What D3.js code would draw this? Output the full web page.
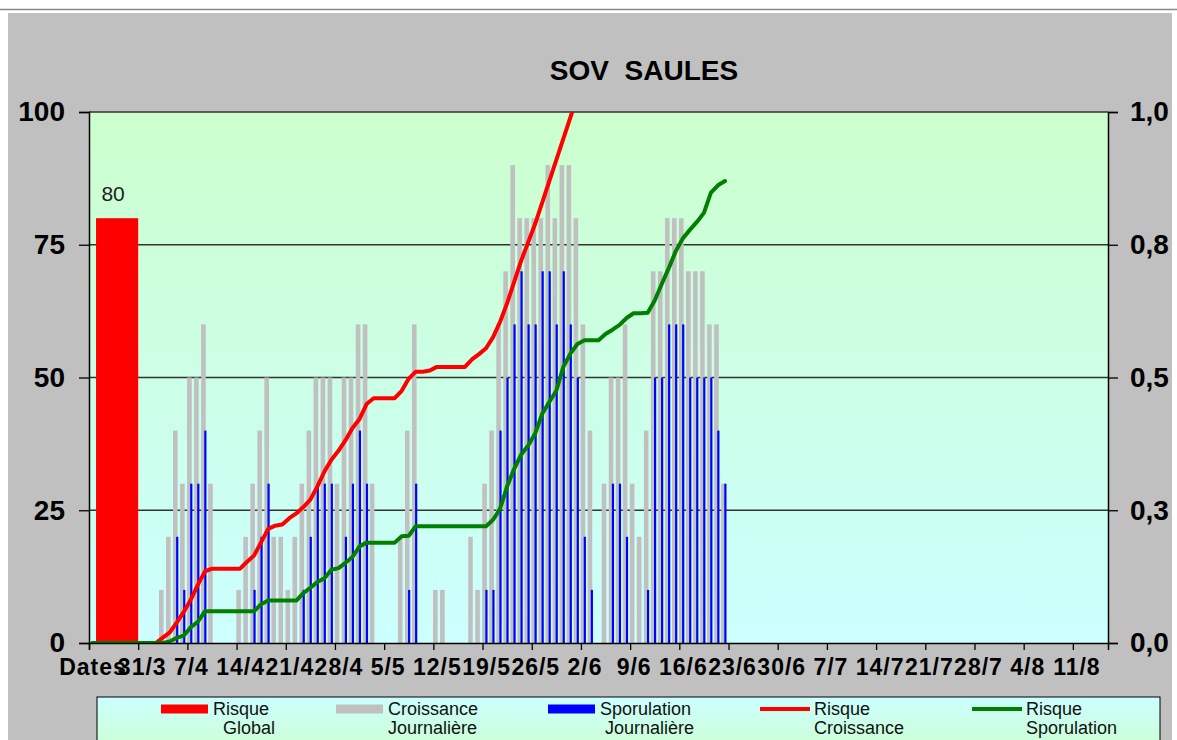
<!DOCTYPE html>
<html>
<head>
<meta charset="utf-8">
<script src="https://cdn.jsdelivr.net/npm/d3@7/dist/d3.min.js"></script>
<style>
  body { margin: 0; background: #fff; }
  svg { display: block; }
  text { font-family: "Liberation Sans", Arial, sans-serif; }
</style>
</head>
<body>
<svg id="chart" width="1177" height="740"></svg>
<script>
// Chart values (day 0 = 24/3, one value per day)
var title = "SOV  SAULES";
var tickLabels = ["Dates", "31/3", "7/4", "14/4", "21/4", "28/4", "5/5", "12/5", "19/5", "26/5",
  "2/6", "9/6", "16/6", "23/6", "30/6", "7/7", "14/7", "21/7", "28/7", "4/8", "11/8"];
var risqueGlobal = 80;
var croissance = [
  0, 0, 0, 0, 0, 0, 0, 0, 0, 0,
  10, 20, 40, 30, 50, 50, 60, 30, 0, 0,
  0, 10, 20, 30, 40, 50, 20, 20, 10, 20,
  30, 40, 50, 50, 50, 30, 50, 50, 60, 60,
  30, 0, 0, 0, 20, 40, 60, 0, 0, 10,
  10, 0, 0, 0, 20, 10, 30, 40, 60, 70,
  90, 80, 80, 80, 80, 90, 80, 90, 90, 80,
  60, 40, 0, 30, 50, 50, 60, 30, 20, 40,
  70, 70, 80, 80, 80, 70, 70, 70, 60, 60,
  30];
var sporulation = [
  0, 0, 0, 0, 0, 0, 0, 0, 0, 0,
  0, 0, 20, 10, 30, 30, 40, 0, 0, 0,
  0, 0, 0, 10, 20, 30, 0, 0, 0, 0,
  10, 20, 30, 30, 30, 0, 20, 30, 40, 30,
  0, 0, 0, 0, 0, 10, 30, 0, 0, 0,
  0, 0, 0, 0, 0, 0, 10, 10, 40, 50,
  60, 70, 60, 60, 70, 70, 60, 70, 60, 50,
  20, 10, 0, 0, 30, 30, 20, 0, 0, 10,
  50, 50, 60, 60, 60, 50, 50, 50, 50, 40,
  30];
var risqueCroissance = [
  0, 0, 0, 0, 0, 0, 0, 0, 0, 0,
  .01, .02, .039, .059, .082, .11, .135, .14, .14, .14,
  .14, .14, .153, .165, .19, .215, .221, .223, .235, .244,
  .256, .27, .295, .323, .345, .362, .382, .405, .422, .45,
  .461, .461, .461, .461, .475, .498, .511, .511, .513, .52,
  .52, .52, .52, .52, .534, .544, .555, .576, .605, .64,
  .68, .72, .755, .79, .83, .87, .91, .95, .99, 1.03,
  1.07];
var risqueSporulation = [
  0, 0, 0, 0, 0, 0, 0, 0, 0, 0,
  0, .003, .01, .014, .03, .04, .06, .06, .06, .06,
  .06, .06, .06, .06, .073, .08, .08, .08, .08, .08,
  .094, .104, .115, .122, .138, .141, .151, .162, .182, .189,
  .189, .189, .189, .189, .201, .202, .22, .22, .22, .22,
  .22, .22, .22, .22, .22, .22, .22, .232, .253, .295,
  .328, .355, .372, .395, .432, .454, .475, .52, .545, .563,
  .57, .57, .57, .582, .59, .599, .612, .621, .621, .622,
  .645, .676, .706, .738, .762, .778, .793, .81, .848, .862,
  .87];
var leftTicks = [0, 25, 50, 75, 100];
var rightTicks = [0, 0.25, 0.5, 0.75, 1];
var legendLabels = [["Risque", "  Global"], ["Croissance", "Journalière"], ["Sporulation", " Journalière"],
  ["Risque", "Croissance"], ["Risque", "Sporulation"]];

function drawChart() {
  var svg = d3.select("#chart");
  var pLeft = 89, pRight = 1108, pTop = 112, pBottom = 643;
  var nDays = 145;

  var x = d3.scaleLinear().domain([0, nDays]).range([pLeft, pRight]);
  var y = d3.scaleLinear().domain([0, 100]).range([pBottom, pTop]);
  var y2 = d3.scaleLinear().domain([0, 1]).range([pBottom, pTop]);
  var half = (x(1) - x(0)) / 2;

  // Gradients
  var defs = svg.append("defs");
  var gPlot = defs.append("linearGradient").attr("id", "plotBg")
    .attr("x1", 0).attr("y1", 0).attr("x2", 0).attr("y2", 1);
  gPlot.append("stop").attr("offset", "0%").attr("stop-color", "#ccffcc");
  gPlot.append("stop").attr("offset", "100%").attr("stop-color", "#ccffff");
  var gLeg = defs.append("linearGradient").attr("id", "legBg")
    .attr("x1", 0).attr("y1", 0).attr("x2", 0).attr("y2", 1);
  gLeg.append("stop").attr("offset", "0%").attr("stop-color", "#ccffff");
  gLeg.append("stop").attr("offset", "100%").attr("stop-color", "#ccffcc");
  defs.append("clipPath").attr("id", "plotClip")
    .append("rect").attr("x", pLeft).attr("y", pTop)
    .attr("width", pRight - pLeft).attr("height", pBottom - pTop);

  // Chart frame
  svg.append("line").attr("x1", 0).attr("x2", 1177).attr("y1", 9.5).attr("y2", 9.5)
    .attr("stroke", "#888").attr("stroke-width", 1.5);
  svg.append("rect").attr("x", 8).attr("y", 13).attr("width", 1164).attr("height", 740)
    .attr("fill", "#c0c0c0");

  svg.append("text").attr("x", 644).attr("y", 80).attr("text-anchor", "middle")
    .style("font-size", "28px").style("font-weight", "bold").attr("fill", "#000")
    .attr("xml:space", "preserve").text(title);

  // Plot area
  svg.append("rect").attr("x", pLeft).attr("y", pTop)
    .attr("width", pRight - pLeft).attr("height", pBottom - pTop)
    .attr("fill", "url(#plotBg)");

  svg.append("g").selectAll("line")
    .data(leftTicks.slice(1))
    .enter().append("line")
    .attr("x1", pLeft).attr("x2", pRight)
    .attr("y1", function(d) { return y(d); })
    .attr("y2", function(d) { return y(d); })
    .attr("stroke", "#333").attr("stroke-width", 1.4);

  // Daily bars
  var barsG = svg.append("g").attr("clip-path", "url(#plotClip)");
  barsG.selectAll(".croiss")
    .data(croissance)
    .enter().append("rect")
    .attr("class", "croiss")
    .attr("x", function(d, i) { return x(i) - 0.3; })
    .attr("width", 4.6)
    .attr("y", function(d) { return y(d); })
    .attr("height", function(d) { return y(0) - y(d); })
    .attr("fill", "#c0c0c0");

  barsG.selectAll(".spor")
    .data(sporulation)
    .enter().append("rect")
    .attr("class", "spor")
    .attr("x", function(d, i) { return x(i) + 2.8; })
    .attr("width", 2.2)
    .attr("y", function(d) { return y(d); })
    .attr("height", function(d) { return y(0) - y(d); })
    .attr("fill", "#0000ff");

  // Risque global bar spans the first week (days 1 to 7)
  svg.append("rect")
    .attr("x", x(1)).attr("width", x(7) - x(1))
    .attr("y", y(risqueGlobal)).attr("height", y(0) - y(risqueGlobal))
    .attr("fill", "#ff0000");
  svg.append("text")
    .attr("x", (x(1) + x(7)) / 2 - 4).attr("y", y(risqueGlobal) - 17)
    .attr("text-anchor", "middle").style("font-size", "21px").attr("fill", "#222")
    .text(risqueGlobal);

  // Risk lines (right axis)
  var line = d3.line()
    .x(function(d, i) { return x(i) + half; })
    .y(function(d) { return y2(d); });

  var linesG = svg.append("g").attr("clip-path", "url(#plotClip)");
  linesG.append("path").datum(risqueCroissance)
    .attr("d", line).attr("fill", "none").attr("stroke", "#ff0000")
    .attr("stroke-width", 4).attr("stroke-linejoin", "round").attr("stroke-linecap", "round");
  linesG.append("path").datum(risqueSporulation)
    .attr("d", line).attr("fill", "none").attr("stroke", "#008000")
    .attr("stroke-width", 4).attr("stroke-linejoin", "round").attr("stroke-linecap", "round");

  // Axes
  var axisL = svg.append("g").attr("transform", "translate(" + pLeft + ",0)")
    .call(d3.axisLeft(y).tickValues(leftTicks).tickSize(10).tickPadding(14));
  var axisR = svg.append("g").attr("transform", "translate(" + pRight + ",0)")
    .call(d3.axisRight(y2).tickValues(rightTicks).tickSize(10).tickPadding(12)
      .tickFormat(function(d) { return d3.format(".1f")(d).replace(".", ","); }));
  var axisB = svg.append("g").attr("transform", "translate(0," + pBottom + ")")
    .call(d3.axisBottom(x).tickValues(d3.range(0, 141, 7)).tickSize(7).tickPadding(9)
      .tickFormat(function(d, i) { return tickLabels[i]; }));

  [axisL, axisR].forEach(function(a) {
    a.selectAll("text").style("font-size", "28px").style("font-weight", "bold")
      .attr("fill", "#000").style("font-family", "'Liberation Sans', Arial, sans-serif");
  });
  axisB.selectAll("text").style("font-size", "23px").style("font-weight", "bold")
    .style("letter-spacing", "1px")
    .attr("fill", "#000").attr("dx", half).style("font-family", "'Liberation Sans', Arial, sans-serif");
  [axisL, axisR, axisB].forEach(function(a) {
    a.select(".domain").attr("stroke", "#000").attr("stroke-width", 1.5);
    a.selectAll(".tick line").attr("stroke", "#000").attr("stroke-width", 1.3);
  });

  // Legend
  var legX = 97, legY = 697;
  svg.append("rect").attr("x", legX).attr("y", legY).attr("width", 1063).attr("height", 60)
    .attr("fill", "url(#legBg)").attr("stroke", "#000").attr("stroke-width", 1);

  var legColours = ["#ff0000", "#c0c0c0", "#0000ff", "#ff0000", "#008000"];
  var legPos = [161, 336, 548, 760, 972];
  var legendG = svg.selectAll(".legend")
    .data(legendLabels)
    .enter().append("g")
    .attr("class", "legend")
    .attr("transform", function(d, i) { return "translate(" + legPos[i] + "," + 709 + ")"; });

  legendG.each(function(d, i) {
    var g = d3.select(this);
    if (i < 3) {
      g.append("rect").attr("x", 0).attr("y", -4.5).attr("width", 47).attr("height", 9)
        .attr("fill", legColours[i]);
    } else {
      g.append("line").attr("x1", 0).attr("x2", 50).attr("y1", 0).attr("y2", 0)
        .attr("stroke", legColours[i]).attr("stroke-width", 4);
    }
  });

  legendG.append("text")
    .attr("x", function(d, i) { return i < 3 ? 52 : 54; })
    .attr("y", 6)
    .style("font-size", "18px").attr("fill", "#111").attr("xml:space", "preserve")
    .text(function(d) { return d[0]; });
  legendG.append("text")
    .attr("x", function(d, i) { return i < 3 ? 52 : 54; })
    .attr("y", 25)
    .style("font-size", "18px").attr("fill", "#111").attr("xml:space", "preserve")
    .text(function(d) { return d[1]; });
}

drawChart();
</script>
</body>
</html>
